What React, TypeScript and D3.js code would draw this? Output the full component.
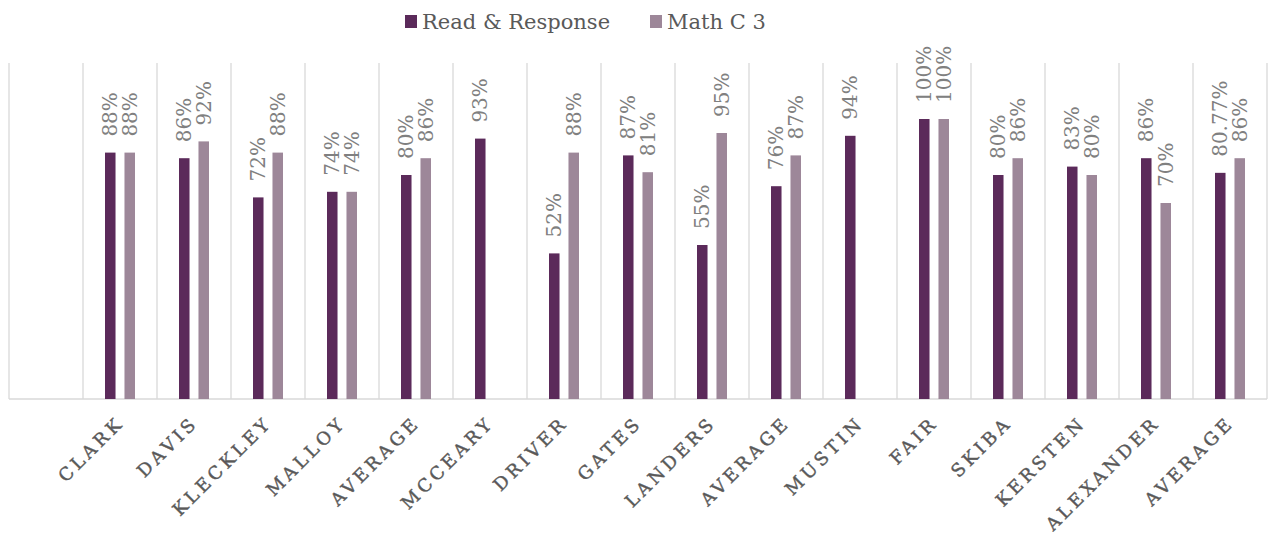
import React, { useRef, useEffect } from "react";
import * as d3 from "d3";

const categories = [
  "", "CLARK", "DAVIS", "KLECKLEY", "MALLOY", "AVERAGE", "MCCEARY", "DRIVER", "GATES",
  "LANDERS", "AVERAGE", "MUSTIN", "FAIR", "SKIBA", "KERSTEN", "ALEXANDER", "AVERAGE"
];
const readResponse = [null, 88, 86, 72, 74, 80, 93, 52, 87, 55, 76, 94, 100, 80, 83, 86, 80.77];
const mathC3 = [null, 88, 92, 88, 74, 86, null, 88, 81, 95, 87, null, 100, 86, 80, 70, 86];
const seriesNames = ["Read & Response", "Math C 3"];
const seriesColors = ["#5b2a5a", "#9d8799"];

const fmt = (v: number) => (Number.isInteger(v) ? `${v}%` : `${v.toFixed(2)}%`);

const App = () => {
  const chartRef = useRef<SVGSVGElement>(null);

  useEffect(() => {
    const width = 1271;
    const height = 538;
    const margin = { top: 63, right: 4, bottom: 139, left: 9 };

    const svg = d3.select(chartRef.current);
    svg.selectAll("*").remove();

    const idx = categories.map((_, i) => i);

    const x = d3
      .scaleBand<number>()
      .domain(idx)
      .range([margin.left, width - margin.right])
      .padding(0);

    // two bars per category, narrow with a small gap
    const x1 = d3
      .scaleBand<number>()
      .domain([0, 1])
      .range([0, x.bandwidth()])
      .paddingInner(0.46)
      .paddingOuter(1.13);

    const y = d3
      .scaleLinear()
      .domain([0, 120])
      .range([height - margin.bottom, margin.top]);

    // vertical gridlines at category boundaries
    const bounds = idx.map((i) => x(i)!).concat([width - margin.right]);
    svg
      .append("g")
      .selectAll("line")
      .data(bounds)
      .enter()
      .append("line")
      .attr("x1", (d) => d)
      .attr("x2", (d) => d)
      .attr("y1", margin.top)
      .attr("y2", height - margin.bottom)
      .attr("stroke", "#d9d9d9")
      .attr("stroke-width", 1.3);

    // baseline
    svg
      .append("line")
      .attr("x1", margin.left)
      .attr("x2", width - margin.right)
      .attr("y1", y(0))
      .attr("y2", y(0))
      .attr("stroke", "#d9d9d9")
      .attr("stroke-width", 1.5);

    const seriesData = [readResponse, mathC3];

    seriesData.forEach((values, s) => {
      const rows = values
        .map((v, i) => ({ i, v }))
        .filter((d) => d.v !== null) as { i: number; v: number }[];

      svg
        .append("g")
        .attr("fill", seriesColors[s])
        .selectAll("rect")
        .data(rows)
        .enter()
        .append("rect")
        .attr("x", (d) => x(d.i)! + x1(s)!)
        .attr("y", (d) => y(d.v))
        .attr("width", x1.bandwidth())
        .attr("height", (d) => y(0) - y(d.v));

      svg
        .append("g")
        .selectAll("text")
        .data(rows)
        .enter()
        .append("text")
        .attr("transform", (d) => {
          const cx = x(d.i)! + x1(s)! + x1.bandwidth() / 2;
          return `translate(${cx},${y(d.v) - 16}) rotate(-90)`;
        })
        .attr("dy", "0.36em")
        .attr("font-family", "'DejaVu Serif', serif")
        .attr("font-size", "20px")
        .attr("fill", "#808080")
        .text((d) => fmt(d.v));
    });

    // category labels
    svg
      .append("g")
      .selectAll("text")
      .data(idx)
      .enter()
      .append("text")
      .attr("transform", (i) => `translate(${x(i)! + x.bandwidth() / 2 + 5},${y(0) + 25}) rotate(-45)`)
      .attr("text-anchor", "end")
      .attr("font-family", "'DejaVu Serif', serif")
      .attr("font-size", "18px")
      .attr("letter-spacing", "3.6px")
      .attr("stroke", "#595959")
      .attr("stroke-width", 0.4)
      .attr("fill", "#595959")
      .text((i) => categories[i]);

    // legend
    const legendItems = [
      { name: seriesNames[0], color: seriesColors[0], x: 405 },
      { name: seriesNames[1], color: seriesColors[1], x: 650 }
    ];
    const legend = svg.append("g");
    legendItems.forEach((item) => {
      legend
        .append("rect")
        .attr("x", item.x)
        .attr("y", 15)
        .attr("width", 12)
        .attr("height", 13)
        .attr("fill", item.color);
      legend
        .append("text")
        .attr("x", item.x + 17)
        .attr("y", 29)
        .attr("font-family", "'DejaVu Serif', serif")
        .attr("font-size", "21px")
        .attr("fill", "#595959")
        .text(item.name);
    });
  }, []);

  return (
    <>
      <style>{`body{margin:0}`}</style>
      <svg ref={chartRef} width={1271} height={538} style={{ display: "block", background: "#fff" }}></svg>
    </>
  );
};

export default App;
